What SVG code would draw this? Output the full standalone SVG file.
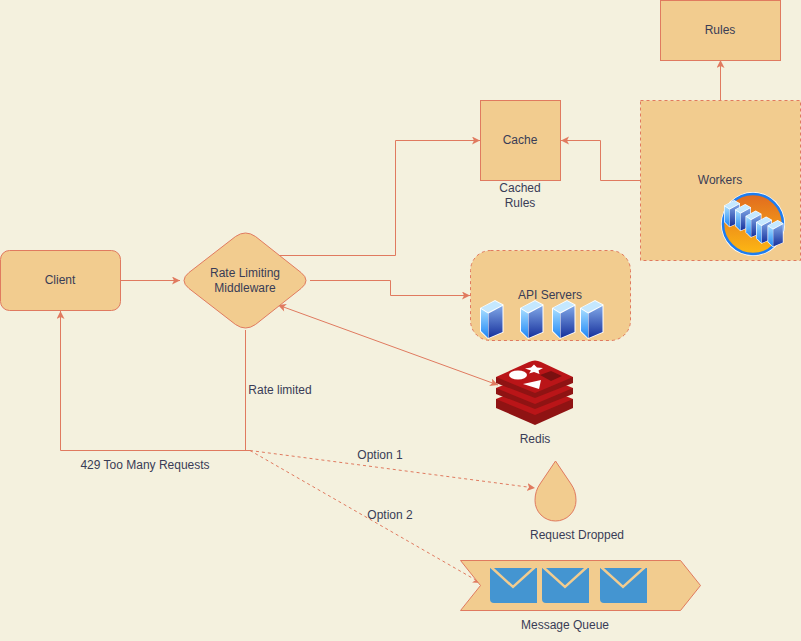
<svg xmlns="http://www.w3.org/2000/svg" width="801" height="641" viewBox="0 0 801 641">
<style>
text{font-family:"Liberation Sans",Arial,sans-serif;font-size:12px;fill:#393C56;text-anchor:middle}
.n{fill:#F2CC8F;stroke:#E07A5F;stroke-width:1}
.d{stroke-dasharray:3 3}
.c{fill:none;stroke:#E07A5F;stroke-width:1}
.e{marker-end:url(#a)}
.s{marker-start:url(#b)}
.m{fill:#4495D1}
.v{fill:none;stroke:#F2CC8F;stroke-width:2.4}
.rt{fill:#BA1518}
.rs{fill:#8F1313}
</style>
<defs>
<marker id="a" markerUnits="userSpaceOnUse" markerWidth="10" markerHeight="10" refX="8" refY="4" orient="auto"><path d="M0 0L8 4L0 8L2 4Z" fill="#E07A5F"/></marker>
<marker id="b" markerUnits="userSpaceOnUse" markerWidth="10" markerHeight="10" refX="0" refY="4" orient="auto"><path d="M8 0L0 4L8 8L6 4Z" fill="#E07A5F"/></marker>
<linearGradient id="sv" x1="0" y1="0" x2="0" y2="1"><stop offset="0" stop-color="#7FA6E6"/><stop offset="1" stop-color="#16309C"/></linearGradient>
<linearGradient id="sf" x1="0" y1="0" x2="0" y2="1"><stop offset="0" stop-color="#A5DCFF"/><stop offset="1" stop-color="#1E86F5"/></linearGradient>
<linearGradient id="bg" x1="0" y1="0" x2="0" y2="1"><stop offset="0" stop-color="#E16A1F"/><stop offset="1" stop-color="#FDB813"/></linearGradient>
<g id="srv"><path d="M0 8L15 0L23.500 4.500V32.500L8 39L0 31.500Z" fill="#fff"/><path d="M1 8L15 1L22.500 5L8 12.500Z" fill="#C5E8FF"/><path d="M1 9L8 13.500V38L1 31Z" fill="url(#sf)"/><path d="M8.500 13.500L22.500 6V32L8.500 38Z" fill="url(#sv)"/></g>
</defs>
<rect width="801" height="641" fill="#F4F1DE"/>
<g id="connectors">
<path class="c e" d="M720.500 100V60"/>
<path class="c e" d="M640 180.500H600.500V140.500H561"/>
<path class="c e" d="M275 255.500H395.500V140.500H480"/>
<path class="c e" d="M121 280.500H180"/>
<path class="c e" d="M310 280.500H390.500V295.500H470"/>
<path class="c e s" d="M278 305L498 385"/>
<path class="c" d="M245.500 330V450.500"/>
<path class="c e" d="M250 450.500H60.500V311"/>
<path class="c d e" d="M250 450.500L535 488"/>
<path class="c d e" d="M250 450.500L481 583"/>
</g>
<g id="rules"><rect class="n" x="660.500" y="0.500" width="120" height="60"/><text x="720" y="34">Rules</text></g>
<g id="cache"><rect class="n" x="480.500" y="100.500" width="80" height="80"/><text x="520" y="144">Cache</text><text x="520" y="192">Cached</text><text x="520" y="207">Rules</text></g>
<g id="workers"><rect class="n d" x="640.500" y="100.500" width="160" height="160"/><text x="720" y="184">Workers</text>
<circle cx="753" cy="224" r="32" fill="#fff"/><circle cx="753" cy="224" r="30" fill="url(#bg)" stroke="#1E7DF0" stroke-width="2.500"/>
<use href="#srv" transform="translate(724 200) scale(.68 .7)"/><use href="#srv" transform="translate(735 204) scale(.68 .7)"/><use href="#srv" transform="translate(745.500 210.500) scale(.68 .7)"/><use href="#srv" transform="translate(756 216.500) scale(.68 .7)"/><use href="#srv" transform="translate(767.500 220) scale(.68 .7)"/></g>
<g id="client"><rect class="n" x="0.500" y="250.500" width="120" height="60" rx="9"/><text x="60" y="284">Client</text></g>
<g id="middleware"><path class="n" d="M235.500 236.500Q245.500 229.500 255.500 236.500L301 272.500Q311 280.500 301 288.500L255.500 324.500Q245.500 331.500 235.500 324.500L189 288.500Q179 280.500 189 272.500Z"/><text x="245" y="277">Rate Limiting</text><text x="245" y="292">Middleware</text></g>
<g id="api"><rect class="n d" x="470.500" y="250.500" width="160" height="90" rx="20"/><text x="550" y="299">API Servers</text>
<use href="#srv" transform="translate(480 300)"/><use href="#srv" transform="translate(520 300)"/><use href="#srv" transform="translate(552 300)"/><use href="#srv" transform="translate(580 300)"/></g>
<g id="redis">
<path class="rs" d="M496 399L573 399V408L535 425L496 408Z"/><path class="rt" d="M496 399L535 384L573 399L535 415Z"/>
<path class="rs" d="M496 388L573 388V394L535 409L496 394Z"/><path class="rt" d="M496 388L535 373L573 388L535 404Z"/>
<path class="rs" d="M496 377L573 377V383L535 398L496 383Z"/><path class="rt" d="M496 377L529 362Q535 359 541 362L573 377L535 393Z"/>
<path d="M534 364.500L537 367.500L543 368L538.500 370.500L539.500 374L534 372L529 373.500L531 370.500L525 368.500L531 367.500Z" fill="#fff"/>
<ellipse cx="518" cy="375" rx="9" ry="4.500" fill="#fff"/><path d="M523 384L541 380L539 389Z" fill="#fff"/><path d="M540 375L551 371L562 376L551 381Z" fill="#7A1010"/>
<text x="535" y="443">Redis</text></g>
<g id="dropped"><path class="n" d="M555.500 461L540 484Q535 491 535 500.500A20.500 20.500 0 0 0 576 500.500Q576 491 571 484Z"/><text x="577" y="539">Request Dropped</text></g>
<g id="queue"><path class="n" d="M460.500 560.500H680.500L700.500 585.500L680.500 610.500H460.500L480.500 585.500Z"/>
<path class="m" d="M490 568H537V603H494Q490 603 490 599Z"/><path class="v" d="M491 567L513 587L535 567"/>
<path class="m" d="M542 568H589V603H546Q542 603 542 599Z"/><path class="v" d="M543 567L565 587L587 567"/>
<path class="m" d="M600 568H647V603H604Q600 603 600 599Z"/><path class="v" d="M601 567L623 587L645 567"/>
<text x="565" y="629">Message Queue</text></g>
<g id="labels"><text x="280" y="394">Rate limited</text><text x="145" y="469">429 Too Many Requests</text><text x="380" y="459">Option 1</text><text x="390" y="519">Option 2</text></g>
</svg>
